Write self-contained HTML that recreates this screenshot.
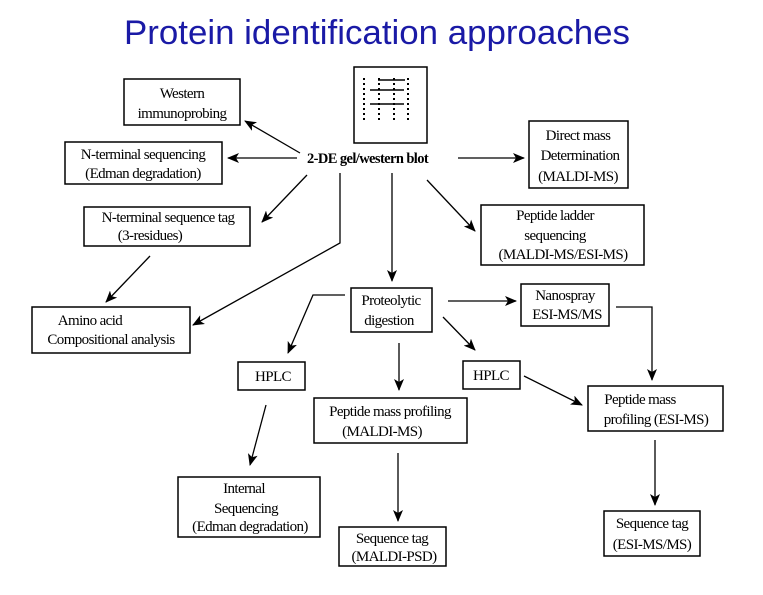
<!DOCTYPE html>
<html><head><meta charset="utf-8"><style>
html,body{margin:0;padding:0;background:#fff;}
svg{display:block;}
.t{font-family:"Liberation Serif",serif;font-size:15px;fill:#000;letter-spacing:-0.6px;}
.b{fill:#fff;stroke:#000;stroke-width:1.5;}
.l{stroke:#000;stroke-width:1.3;fill:none;}
</style></head><body>
<svg width="763" height="595" viewBox="0 0 763 595">
<defs><marker id="a" markerWidth="12" markerHeight="10" refX="11" refY="5" orient="auto" markerUnits="userSpaceOnUse"><path d="M0,0 L12,5 L0,10 L3,5 z" fill="#000"/></marker></defs>
<text x="124" y="44" textLength="506" lengthAdjust="spacingAndGlyphs" font-family="Liberation Sans, sans-serif" font-size="34" fill="#1a1aa6">Protein identification approaches</text>

<!-- gel -->
<rect class="b" x="354" y="67" width="73" height="76"/>
<g stroke="#000" stroke-width="2" stroke-dasharray="2,3">
<line x1="364" y1="78" x2="364" y2="120"/><line x1="379" y1="78" x2="379" y2="120"/><line x1="394" y1="78" x2="394" y2="120"/><line x1="408" y1="78" x2="408" y2="120"/>
</g>
<g stroke="#000" stroke-width="1.5"><line x1="370" y1="90" x2="404" y2="90"/><line x1="370" y1="104" x2="404" y2="104"/><line x1="378" y1="80" x2="405" y2="80"/></g>
<text x="307" y="163" class="t" style="font-weight:bold;font-size:14.5px">2-DE gel/western blot</text>

<!-- boxes -->
<rect class="b" x="124" y="79" width="116" height="46"/>
<text class="t" x="182" y="98" text-anchor="middle">Western</text><text class="t" x="182" y="118" text-anchor="middle">immunoprobing</text>

<rect class="b" x="65" y="142" width="157" height="42"/>
<text class="t" x="143" y="159" text-anchor="middle">N-terminal sequencing</text><text class="t" x="143" y="178" text-anchor="middle">(Edman degradation)</text>

<rect class="b" x="84" y="207" width="166" height="39"/>
<text class="t" x="168" y="222" text-anchor="middle">N-terminal sequence tag</text><text class="t" x="150" y="240" text-anchor="middle">(3-residues)</text>

<rect class="b" x="32" y="307" width="158" height="46"/>
<text class="t" x="90" y="325" text-anchor="middle">Amino acid</text><text class="t" x="111" y="344" text-anchor="middle">Compositional analysis</text>

<rect class="b" x="529" y="121" width="99" height="67"/>
<text class="t" x="578" y="140" text-anchor="middle">Direct mass</text><text class="t" x="580" y="160" text-anchor="middle">Determination</text><text class="t" x="578" y="181" text-anchor="middle">(MALDI-MS)</text>

<rect class="b" x="481" y="205" width="163" height="60"/>
<text class="t" x="555" y="220" text-anchor="middle">Peptide ladder</text><text class="t" x="555" y="240" text-anchor="middle">sequencing</text><text class="t" x="563" y="259" text-anchor="middle">(MALDI-MS/ESI-MS)</text>

<rect class="b" x="351" y="288" width="81" height="44"/>
<text class="t" x="391" y="305" text-anchor="middle">Proteolytic</text><text class="t" x="389" y="325" text-anchor="middle">digestion</text>

<rect class="b" x="521" y="284" width="88" height="42"/>
<text class="t" x="565" y="300" text-anchor="middle">Nanospray</text><text class="t" x="567" y="319" text-anchor="middle">ESI-MS/MS</text>

<rect class="b" x="238" y="362" width="67" height="28"/>
<text class="t" x="273" y="381" text-anchor="middle">HPLC</text>

<rect class="b" x="463" y="361" width="57" height="28"/>
<text class="t" x="491" y="380" text-anchor="middle">HPLC</text>

<rect class="b" x="314" y="398" width="153" height="45"/>
<text class="t" x="390" y="416" text-anchor="middle">Peptide mass profiling</text><text class="t" x="382" y="436" text-anchor="middle">(MALDI-MS)</text>

<rect class="b" x="588" y="386" width="135" height="45"/>
<text class="t" x="640" y="404" text-anchor="middle">Peptide mass</text><text class="t" x="656" y="424" text-anchor="middle">profiling (ESI-MS)</text>

<rect class="b" x="178" y="477" width="142" height="60"/>
<text class="t" x="244" y="493" text-anchor="middle">Internal</text><text class="t" x="246" y="513" text-anchor="middle">Sequencing</text><text class="t" x="250" y="531" text-anchor="middle">(Edman degradation)</text>

<rect class="b" x="339" y="527" width="107" height="39"/>
<text class="t" x="392" y="543" text-anchor="middle">Sequence tag</text><text class="t" x="394" y="561" text-anchor="middle">(MALDI-PSD)</text>

<rect class="b" x="604" y="511" width="96" height="45"/>
<text class="t" x="652" y="528" text-anchor="middle">Sequence tag</text><text class="t" x="652" y="549" text-anchor="middle">(ESI-MS/MS)</text>

<!-- connectors -->
<line class="l" x1="300" y1="153" x2="245" y2="121" marker-end="url(#a)"/>
<line class="l" x1="297" y1="158" x2="228" y2="158" marker-end="url(#a)"/>
<line class="l" x1="307" y1="175" x2="262" y2="222" marker-end="url(#a)"/>
<line class="l" x1="150" y1="256" x2="106" y2="302" marker-end="url(#a)"/>
<polyline class="l" points="340,173 340,243 193,325" marker-end="url(#a)"/>
<line class="l" x1="392" y1="173" x2="392" y2="281" marker-end="url(#a)"/>
<line class="l" x1="458" y1="158" x2="524" y2="158" marker-end="url(#a)"/>
<line class="l" x1="427" y1="180" x2="475" y2="231" marker-end="url(#a)"/>
<line class="l" x1="448" y1="301" x2="516" y2="301" marker-end="url(#a)"/>
<line class="l" x1="443" y1="317" x2="475" y2="350" marker-end="url(#a)"/>
<polyline class="l" points="345,295 313,295 288,353" marker-end="url(#a)"/>
<line class="l" x1="399" y1="343" x2="399" y2="390" marker-end="url(#a)"/>
<polyline class="l" points="616,307 652,307 652,380" marker-end="url(#a)"/>
<line class="l" x1="524" y1="376" x2="582" y2="405" marker-end="url(#a)"/>
<line class="l" x1="266" y1="405" x2="250" y2="465" marker-end="url(#a)"/>
<line class="l" x1="398" y1="453" x2="398" y2="521" marker-end="url(#a)"/>
<line class="l" x1="655" y1="440" x2="655" y2="505" marker-end="url(#a)"/>
</svg>
</body></html>
